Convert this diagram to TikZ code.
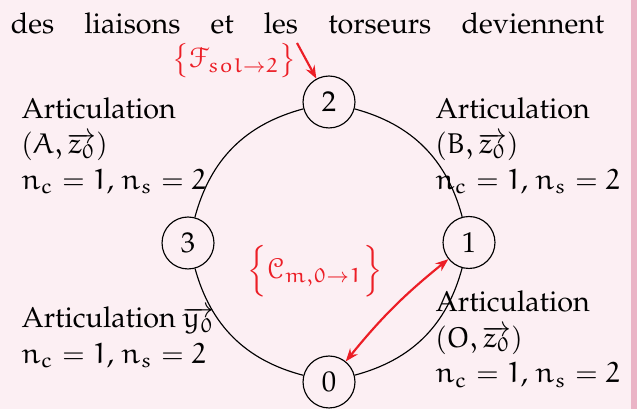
\documentclass[tikz,border=0pt]{standalone}
\usepackage[T1]{fontenc}
\renewcommand{\rmdefault}{ppl}
\DeclareSymbolFont{letters}{U}{eur}{m}{n}
\DeclareMathSymbol{0}{\mathalpha}{letters}{`0}
\DeclareMathSymbol{1}{\mathalpha}{letters}{`1}
\DeclareMathSymbol{2}{\mathalpha}{letters}{`2}
\DeclareMathAlphabet{\mathcal}{U}{eus}{m}{n}
\usetikzlibrary{arrows.meta}
\definecolor{bgpink}{RGB}{252,239,243}
\definecolor{stripcol}{RGB}{234,180,198}
\definecolor{lred}{RGB}{236,30,38}
\begin{document}
\begin{tikzpicture}[x=0.3484pt,y=-0.3484pt,
  font=\fontsize{10}{12.4}\selectfont,
  joint/.style={circle,draw,line width=0.4pt,fill=bgpink,minimum size=18.1pt,inner sep=0pt},
  txtblock/.style={anchor=base west,inner sep=0pt},
  redlbl/.style={text=lred,inner sep=0pt},
  redarrow/.style={draw=lred,line width=0.75pt,-{Stealth[length=4.5pt,width=3.4pt]}},
  link/.style={draw,line width=0.4pt}]
\useasboundingbox (0,0) rectangle (637,409);
\fill[bgpink] (0,0) rectangle (637,409);
\fill[stripcol] (631,0) rectangle (637,409);
% top line of text
\node[txtblock] (toptext) at (10.2,34) {\hbox to 206.8pt{des\hfill liaisons\hfill et\hfill les\hfill torseurs\hfill deviennent}};
% joints
\node[joint] (n2) at (329,102) {2};
\node[joint] (n1) at (469,242.5) {1};
\node[joint] (n0) at (329,382) {0};
\node[joint] (n3) at (188,243) {3};
% links
\draw[link] (n2) to[bend left=30] (n1);
\draw[link] (n1) to[bend left=30] (n0);
\draw[link] (n0) to[bend left=30] (n3);
\draw[link] (n3) to[bend left=30] (n2);
% text blocks
\node[txtblock] (tA) at (21,118.3) {\begin{tabular}[t]{@{}l@{}}Articulation\\ $(A,\overrightarrow{z_0})$\\ $n_c=1$, $n_s=2$\end{tabular}};
\node[txtblock] (tB) at (435,118.3) {\begin{tabular}[t]{@{}l@{}}Articulation\\ $(B,\overrightarrow{z_0})$\\ $n_c=1$, $n_s=2$\end{tabular}};
\node[txtblock] (tY) at (21,327.7) {\begin{tabular}[t]{@{}l@{}}Articulation $\overrightarrow{y_0}$\\ $n_c=1$, $n_s=2$\end{tabular}};
\node[txtblock] (tO) at (435,311.7) {\begin{tabular}[t]{@{}l@{}}Articulation\\ $(O,\overrightarrow{z_0})$\\ $n_c=1$, $n_s=2$\end{tabular}};
% red labels
\node[redlbl,anchor=north east] (lf) at (297,43) {$\big\{\mathcal{F}_{sol\rightarrow 2}\big\}$};
\node[redlbl] (lc) at (315,271) {$\Big\{\mathcal{C}_{m,0\rightarrow 1}\Big\}$};
% red arrows
\draw[redarrow] (lf.north east) -- (n2);
\draw[redarrow,{Stealth[length=4.5pt,width=3.4pt]}-{Stealth[length=4.5pt,width=3.4pt]}] (n0) to[bend left=6] (n1);
\end{tikzpicture}
\end{document}
